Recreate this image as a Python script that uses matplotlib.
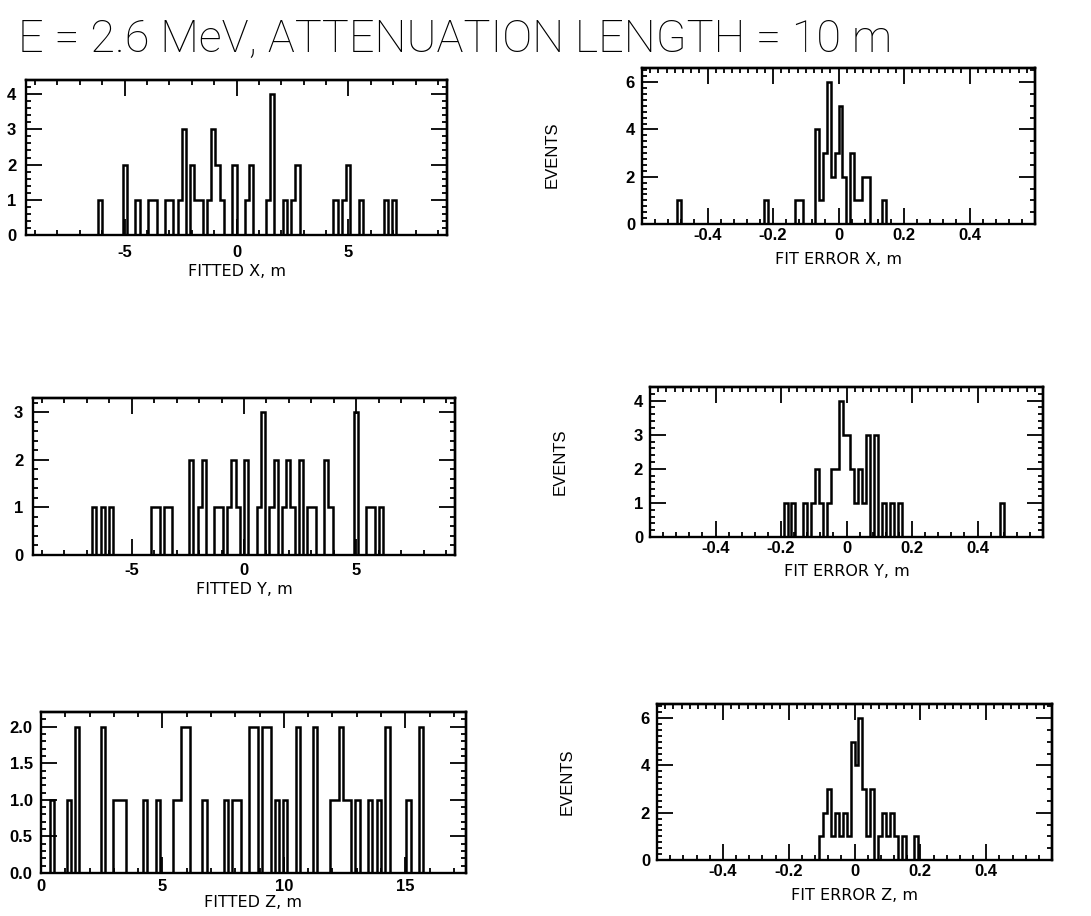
import numpy as np
import matplotlib
matplotlib.use("Agg")
import matplotlib.pyplot as plt
from matplotlib.ticker import MultipleLocator, FixedLocator, NullFormatter, FuncFormatter

plt.rcParams["axes.unicode_minus"] = False
plt.rcParams["font.family"] = ["Liberation Sans", "DejaVu Sans"]

W, H = 1091, 916

title = "E = 2.6 MeV, ATTENUATION LENGTH = 10 m"

# fitted vertex, metres: bin centre and events in that bin (100 bins per axis)
fit_x = [-6.11, -4.98, -4.42, -3.85, -3.67, -3.10, -2.91, -2.54, -2.35, -1.97,
         -1.79, -1.60, -1.22, -1.03, -0.85, -0.66, -0.09, 0.47, 0.66, 1.41,
         1.60, 2.16, 2.54, 2.73, 4.42, 4.79, 4.98, 5.55, 6.67, 7.05]
fit_x_n = [1, 2, 1, 1, 1, 1, 1, 1, 3, 2, 1, 1, 1, 3, 2, 1, 2, 1, 2, 1,
           4, 1, 1, 2, 1, 1, 2, 1, 1, 1]

fit_y = [-6.67, -6.30, -5.92, -4.04, -3.85, -3.48, -3.29, -2.35, -1.97, -1.79,
         -1.22, -1.03, -0.66, -0.47, -0.28, 0.09, 0.66, 0.85, 1.22, 1.41,
         1.79, 1.97, 2.16, 2.54, 2.91, 3.10, 3.67, 3.85, 4.98, 5.55, 5.73, 6.11]
fit_y_n = [1, 1, 1, 1, 1, 1, 1, 2, 1, 2, 1, 1, 1, 2, 1, 2, 1, 3, 1, 2,
           1, 2, 1, 2, 1, 1, 2, 1, 3, 1, 1, 1]

fit_z = [0.44, 1.14, 1.49, 2.54, 3.06, 3.24, 3.41, 4.29, 4.81, 5.51,
         5.69, 5.86, 6.04, 6.74, 7.61, 7.96, 8.14, 8.66, 8.84, 9.19,
         9.36, 9.71, 10.06, 10.59, 11.29, 11.99, 12.16, 12.34, 12.51, 12.69,
         13.04, 13.56, 13.91, 14.26, 15.14, 15.66]
fit_z_n = [1, 1, 2, 2, 1, 1, 1, 1, 1, 1, 1, 2, 2, 1, 1, 1, 1, 2, 2, 2,
           2, 1, 1, 2, 2, 1, 1, 2, 1, 1, 1, 1, 1, 2, 1, 2]

# fit error, metres
err_x = [-0.486, -0.222, -0.126, -0.114, -0.066, -0.054, -0.042, -0.030, -0.018,
         -0.006, 0.006, 0.018, 0.042, 0.054, 0.066, 0.078, 0.090, 0.138]
err_x_n = [1, 1, 1, 1, 4, 1, 3, 6, 2, 3, 5, 2, 3, 1, 1, 2, 2, 1]

err_y = [-0.186, -0.162, -0.126, -0.102, -0.090, -0.078, -0.054, -0.042, -0.030,
         -0.018, -0.006, 0.006, 0.018, 0.030, 0.042, 0.054, 0.066, 0.090,
         0.114, 0.138, 0.162, 0.474]
err_y_n = [1, 1, 1, 1, 2, 1, 1, 2, 2, 4, 3, 3, 2, 1, 2, 1, 3, 3, 1, 1, 1, 1]

err_z = [-0.102, -0.090, -0.078, -0.066, -0.054, -0.042, -0.030, -0.018, -0.006,
         0.006, 0.018, 0.030, 0.042, 0.054, 0.078, 0.090, 0.102, 0.114, 0.126,
         0.150, 0.186]
err_z_n = [1, 2, 3, 1, 2, 1, 2, 1, 5, 4, 6, 3, 1, 3, 1, 2, 1, 2, 1, 1, 1]


def box(l, r, t, b):
    # pixel box measured from the top left -> figure rect
    return [l / W, 1 - b / H, (r - l) / W, (b - t) / H]


def num(v, pos):
    return "0" if abs(v) < 1e-9 else f"{v:g}"


def panel(fig, rect, centres, counts, xlim, ymax, label, xticks, xminor, ystep, yminor,
          top_minor, right_minor, yfmt=None, tpad=5, ypad=6, lpad=5):
    ax = fig.add_axes(rect)
    edges = np.linspace(xlim[0], xlim[1], 101)
    ax.hist(centres, bins=edges, weights=counts, histtype="step", color="black", lw=1.8)
    ax.set_xlim(*xlim)
    ax.set_ylim(0, ymax)

    ax.xaxis.set_major_locator(FixedLocator(xticks))
    ax.xaxis.set_minor_locator(MultipleLocator(xminor))
    ax.xaxis.set_major_formatter(FuncFormatter(num))
    ax.yaxis.set_major_locator(MultipleLocator(ystep))
    ax.yaxis.set_minor_locator(MultipleLocator(yminor))
    ax.yaxis.set_major_formatter(FuncFormatter(yfmt or num))
    ax.tick_params(which="both", direction="in", top=False, right=False, width=1.3)
    ax.tick_params(which="major", length=11.5)
    ax.tick_params(which="minor", length=3.5)
    ax.tick_params(axis="x", pad=tpad)
    ax.tick_params(axis="y", pad=ypad)
    for t in ax.get_xticklabels() + ax.get_yticklabels():
        t.set_fontsize(12)
        t.set_fontweight("bold")
    for s in ax.spines.values():
        s.set_linewidth(1.7)

    top = ax.secondary_xaxis("top")
    top.xaxis.set_major_locator(FixedLocator(xticks))
    top.xaxis.set_minor_locator(MultipleLocator(top_minor))
    top.xaxis.set_major_formatter(NullFormatter())
    right = ax.secondary_yaxis("right")
    right.yaxis.set_major_locator(MultipleLocator(ystep))
    right.yaxis.set_minor_locator(MultipleLocator(right_minor))
    right.yaxis.set_major_formatter(NullFormatter())
    for sec in (top, right):
        sec.tick_params(which="both", direction="in", width=1.3)
        sec.tick_params(which="major", length=11.5)
        sec.tick_params(which="minor", length=3.5)
        for s in sec.spines.values():
            s.set_linewidth(1.7)

    ax.set_xlabel(label, fontfamily="DejaVu Sans", fontsize=11.5, labelpad=lpad)
    return ax


fig = plt.figure(figsize=(W / 100, H / 100), dpi=100)
fig.patch.set_facecolor("white")

fig.text(18 / W, 1 - 52 / H, title, fontsize=32.5, fontweight="light",
         family=["Roboto", "DejaVu Sans"], ha="left", va="baseline")

one = lambda v, pos: f"{v:.1f}"

panel(fig, box(26, 447, 80, 235), fit_x, fit_x_n, (-9.4, 9.4), 4.4, "FITTED X, m",
      [-5, 0, 5], 1, 1, 0.2, 1, 0.2, tpad=7, ypad=7, lpad=3)
panel(fig, box(33, 455, 398, 555), fit_y, fit_y_n, (-9.4, 9.4), 3.3, "FITTED Y, m",
      [-5, 0, 5], 1, 1, 0.2, 1, 0.2, tpad=6, ypad=7, lpad=3)
panel(fig, box(41, 466, 712, 873), fit_z, fit_z_n, (0, 17.5), 2.2, "FITTED Z, m",
      [0, 5, 10, 15], 1, 0.5, 0.1, 1, 0.1, yfmt=one, tpad=4, ypad=6, lpad=1)

err_ticks = [-0.4, -0.2, 0, 0.2, 0.4]
panel(fig, box(642, 1035, 68, 224), err_x, err_x_n, (-0.6, 0.6), 6.6, "FIT ERROR X, m",
      err_ticks, 0.04, 2, 0.25, 0.025, 0.5, tpad=3, ypad=5, lpad=6)
panel(fig, box(650, 1043, 387, 537), err_y, err_y_n, (-0.6, 0.6), 4.4, "FIT ERROR Y, m",
      err_ticks, 0.04, 1, 0.2, 0.025, 0.2, tpad=3, ypad=5, lpad=6)
panel(fig, box(657, 1052, 704, 860), err_z, err_z_n, (-0.6, 0.6), 6.6, "FIT ERROR Z, m",
      err_ticks, 0.04, 2, 0.25, 0.025, 0.5, tpad=3, ypad=5, lpad=6)

for x, y in [(552, 155), (560, 462), (567, 782)]:
    fig.text(x / W, 1 - y / H, "EVENTS", rotation=90, ha="center", va="center", fontsize=12)

fig.savefig("out.png", dpi=100, facecolor="white")
